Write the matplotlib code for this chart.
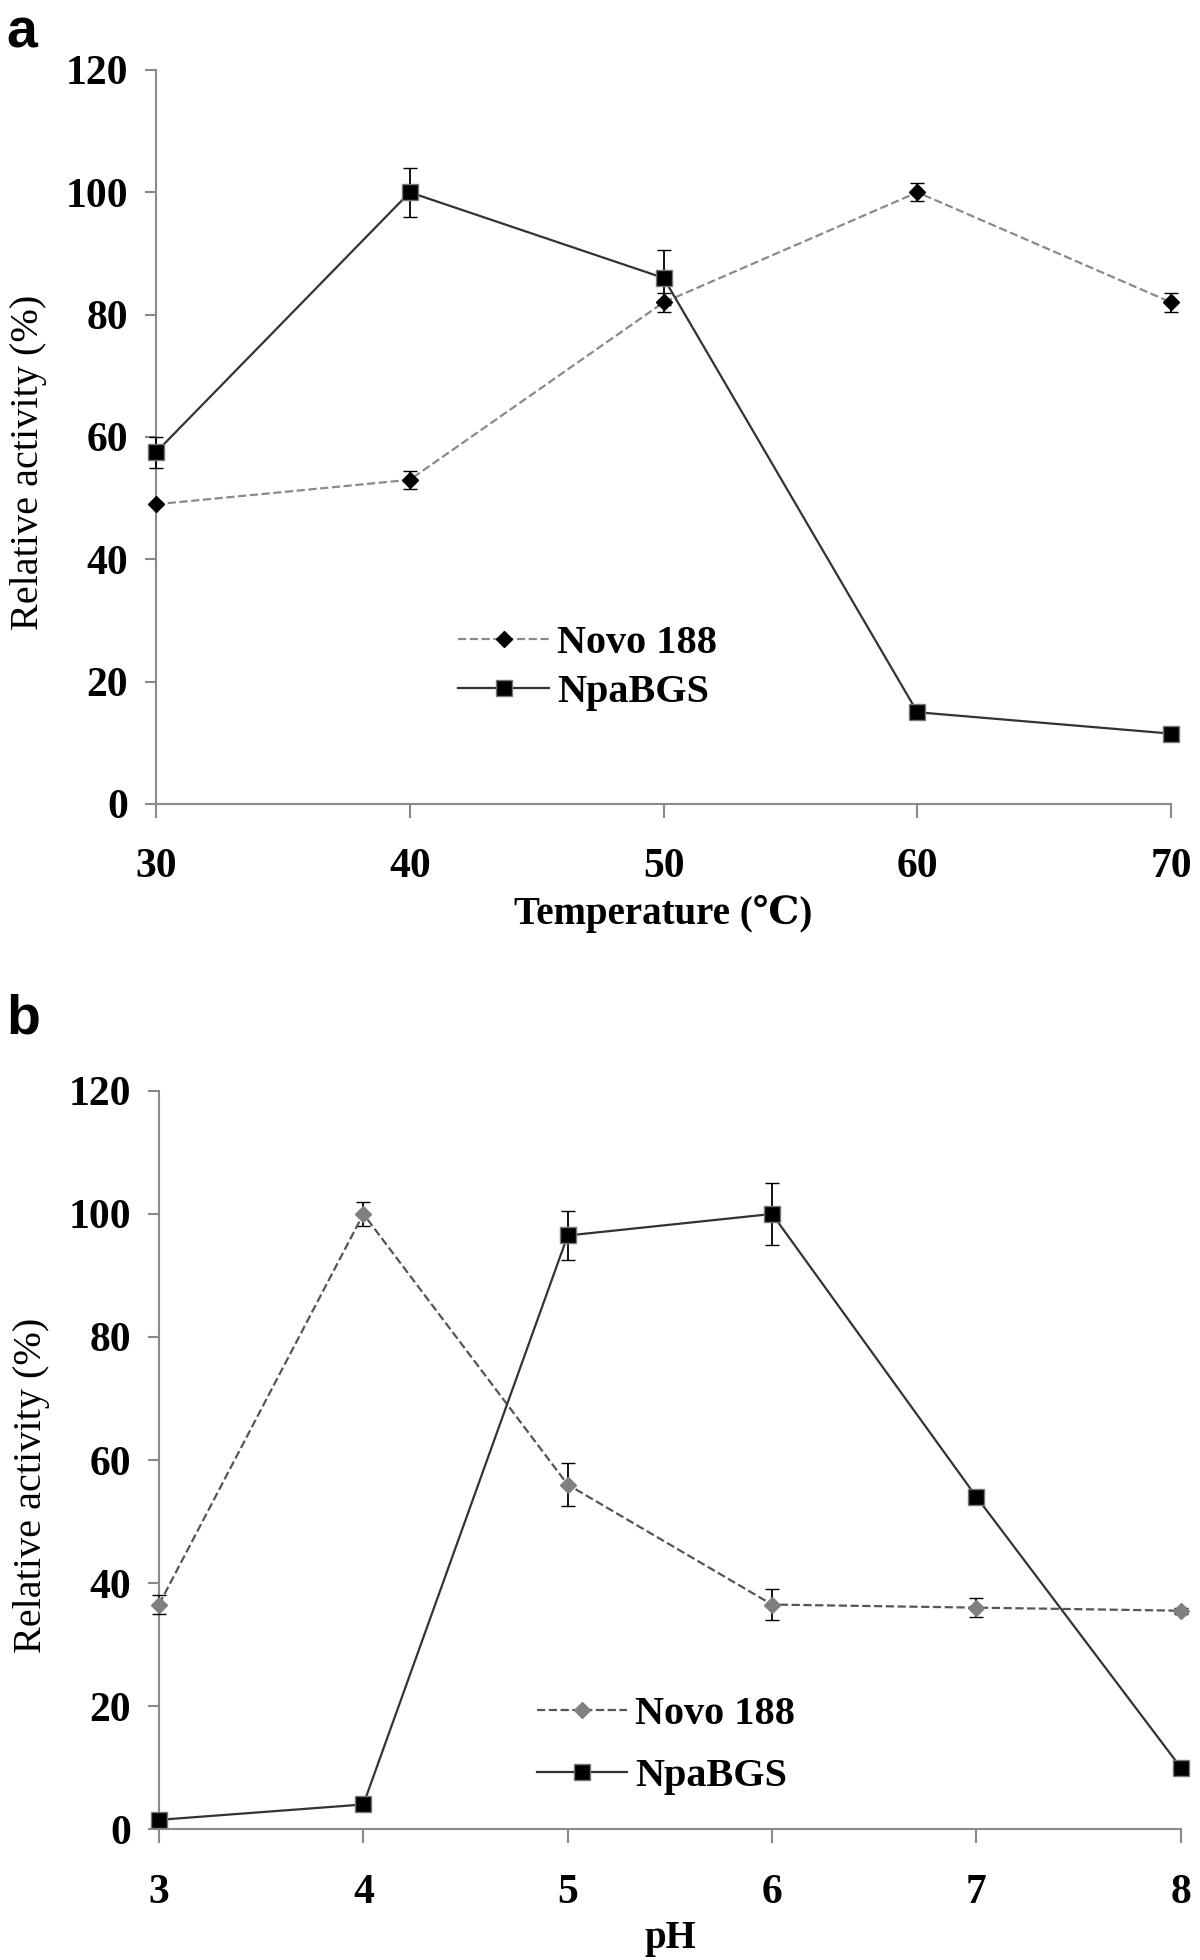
import matplotlib
matplotlib.use('Agg')
from matplotlib import pyplot as plt
from matplotlib.lines import Line2D

# panel a: temperature
temp = [30, 40, 50, 60, 70]
novo_temp = [49, 53, 82, 100, 82]
novo_temp_err = [0, 1.5, 1.5, 1.5, 1.5]
npa_temp = [57.5, 100, 86, 15, 11.5]
npa_temp_err = [2.5, 4, 4.5, 0.5, 0.5]

# panel b: pH
ph = [3, 4, 5, 6, 7, 8]
novo_ph = [36.5, 100, 56, 36.5, 36, 35.5]
novo_ph_err = [1.5, 2, 3.5, 2.5, 1.5, 0.5]
npa_ph = [1.5, 4, 96.5, 100, 54, 10]
npa_ph_err = [0, 0, 4, 5, 0, 0]

yticks = [0, 20, 40, 60, 80, 100, 120]

serif = ['Liberation Serif', 'DejaVu Serif']

fig = plt.figure(figsize=(12, 19.6), dpi=100)
ax1 = fig.add_axes([0.13, 0.5898, 0.846, 0.3745])
ax2 = fig.add_axes([0.1325, 0.0668, 0.8515, 0.3766])


def style(ax, xs, xlabel):
    ax.set_xlim(xs[0], xs[-1])
    ax.set_ylim(0, 120)
    ax.set_xticks(xs)
    ax.set_yticks(yticks)
    for s in ['top', 'right']:
        ax.spines[s].set_visible(False)
    for s in ['left', 'bottom']:
        ax.spines[s].set_color('#8a8a8a')
        ax.spines[s].set_linewidth(1.5)
    ax.tick_params(axis='both', colors='#8a8a8a', width=1.5, length=10, direction='out')
    ax.tick_params(axis='x', pad=22)
    ax.tick_params(axis='y', length=8, pad=12)
    for lab in ax.get_xticklabels() + ax.get_yticklabels():
        lab.set_family(serif)
        lab.set_fontweight('bold')
        lab.set_fontsize(30)
        lab.set_color('black')
    ax.set_xlabel(xlabel, family=serif, fontweight='bold', fontsize=28, labelpad=6)
    ax.set_ylabel('Relative activity (%)', family=serif, fontsize=29)
    ax.yaxis.set_label_coords(-0.107, 0.465)


def handles(novo_color, novo_mcolor):
    h1 = Line2D([], [], color=novo_color, linestyle='--', linewidth=1.6, marker='D', markersize=8,
                markerfacecolor=novo_mcolor, markeredgecolor=novo_mcolor)
    h2 = Line2D([], [], color='#333333', linestyle='-', linewidth=1.6, marker='s', markersize=12,
                markerfacecolor='black', markeredgecolor='#777777')
    return [h1, h2]


# a
ax1.errorbar(temp, novo_temp, yerr=novo_temp_err, color='#8a8a8a', linestyle='--', linewidth=1.6,
             marker='D', markersize=8, markerfacecolor='black', markeredgecolor='black',
             ecolor='black', elinewidth=1.3, capsize=5, clip_on=False, zorder=3)
ax1.errorbar(temp, npa_temp, yerr=npa_temp_err, color='#333333', linestyle='-', linewidth=1.6,
             marker='s', markersize=12, markerfacecolor='black', markeredgecolor='#777777',
             ecolor='black', elinewidth=1.3, capsize=5, clip_on=False, zorder=4)
style(ax1, temp, 'Temperature (℃)')
ax1.legend(handles('#8a8a8a', 'black'), ['Novo 188', 'NpaBGS'], loc='upper left',
           bbox_to_anchor=(0.262, 0.294), frameon=False, handlelength=2.25,
           handletextpad=0.2, labelspacing=0.3, prop={'family': serif, 'weight': 'bold', 'size': 29})

# b
ax2.errorbar(ph, novo_ph, yerr=novo_ph_err, color='#555555', linestyle='--', linewidth=1.6,
             marker='D', markersize=8, markerfacecolor='#808080', markeredgecolor='#808080',
             ecolor='black', elinewidth=1.3, capsize=5, clip_on=False, zorder=3)
ax2.errorbar(ph, npa_ph, yerr=npa_ph_err, color='#333333', linestyle='-', linewidth=1.6,
             marker='s', markersize=12, markerfacecolor='black', markeredgecolor='#777777',
             ecolor='black', elinewidth=1.3, capsize=5, clip_on=False, zorder=4)
style(ax2, ph, 'pH')
ax2.legend(handles('#555555', '#808080'), ['Novo 188', 'NpaBGS'], loc='upper left',
           bbox_to_anchor=(0.334, 0.229), frameon=False, handlelength=2.25,
           handletextpad=0.2, labelspacing=0.6, prop={'family': serif, 'weight': 'bold', 'size': 29})

fig.text(0.005, 0.996, 'a', family='Liberation Sans', fontweight='bold', fontsize=40, va='top')
fig.text(0.005, 0.493, 'b', family='Liberation Sans', fontweight='bold', fontsize=40, va='top')

fig.savefig('out.png', dpi=100, facecolor='white')
